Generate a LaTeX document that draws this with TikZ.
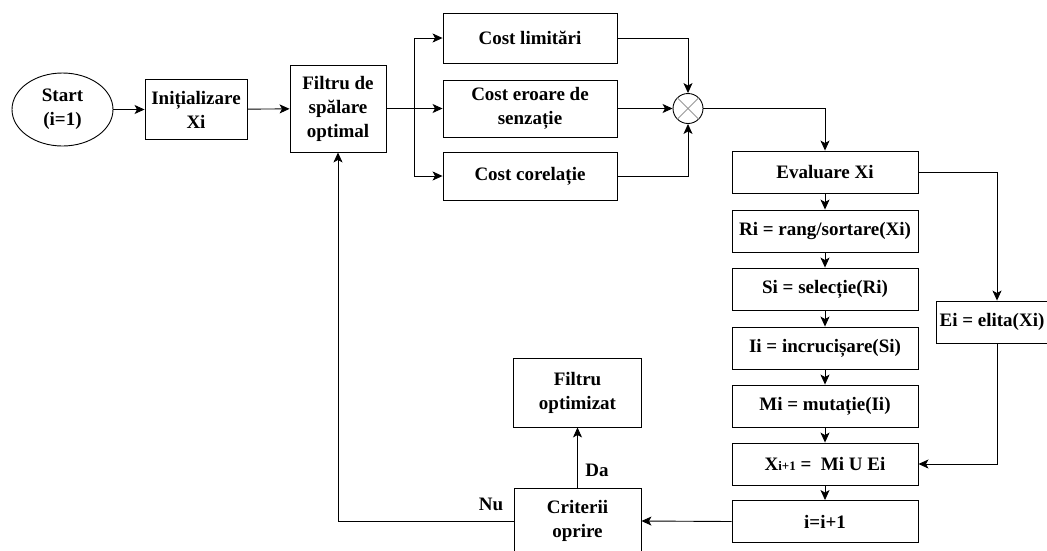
\documentclass[tikz,border=0pt]{standalone}
\usepackage{fontspec}
\setmainfont{Liberation Serif}
\usetikzlibrary{shapes.geometric, arrows.meta, positioning, calc}
\tikzset{
    block/.style={rectangle, draw, line width=0.9pt, align=center, inner sep=0pt, font=\fontsize{19}{24}\selectfont\bfseries},
    startnode/.style={ellipse, draw, line width=0.9pt, align=center, inner sep=0pt, font=\fontsize{19}{24}\selectfont\bfseries},
    line/.style={draw, line width=0.9pt, -{Stealth[length=10pt, width=9pt, inset=2.5pt]}},
    wire/.style={draw, line width=0.9pt},
    tag/.style={font=\fontsize{19}{24}\selectfont\bfseries}
}

\begin{document}
\begin{tikzpicture}[x=1pt, y=-1pt]
    \useasboundingbox (0,0) rectangle (1047,550);

    % Start and filter
    \node[startnode, minimum width=101pt, minimum height=73pt] (start) at (62.5,109.5) {Start\\(i=1)};
    \node[block, minimum width=102pt, minimum height=60pt] (init) at (196,109.5) {Inițializare\\Xi};
    \node[block, minimum width=96pt, minimum height=87pt] (filtru) at (338,108.5) {Filtru de\\spălare\\optimal};

    % Cost terms
    \node[block, minimum width=174pt, minimum height=50pt] (climit) at (530,38) {Cost limitări};
    \node[block, minimum width=174pt, minimum height=57pt] (ceroare) at (530,108.5) {Cost eroare de\\senzație};
    \node[block, minimum width=174pt, minimum height=48pt] (ccorel) at (530,176) {Cost corelație};
    \node[circle, draw, line width=0.9pt, minimum size=30pt, inner sep=0pt] (mult) at (688,108.5) {};
    \draw[gray!80, line width=0.9pt] (mult.45) -- (mult.225) (mult.135) -- (mult.315);

    % Genetic loop
    \node[block, minimum width=186pt, minimum height=42pt] (evalu) at (825,172) {Evaluare Xi};
    \node[block, minimum width=186pt, minimum height=42pt] (ri) at (825,231) {Ri = rang/sortare(Xi)};
    \node[block, minimum width=186pt, minimum height=42pt] (si) at (825,289) {Si = selecție(Ri)};
    \node[block, minimum width=186pt, minimum height=42pt] (ii) at (825,348) {Ii = incrucișare(Si)};
    \node[block, minimum width=186pt, minimum height=42pt] (mi) at (825,406) {Mi = mutație(Ii)};
    \node[block, minimum width=186pt, minimum height=42pt] (xnext) at (825,464) {X{\fontsize{13}{13}\selectfont i+1} =\ \ Mi U Ei};
    \node[block, minimum width=186pt, minimum height=42pt] (inc) at (825,521.5) {i=i+1};
    \node[block, minimum width=112pt, minimum height=42pt] (elita) at (992,322) {Ei = elita(Xi)};

    % Stop test
    \node[block, minimum width=127pt, minimum height=66pt] (crit) at (577.5,521) {Criterii\\oprire};
    \node[block, minimum width=128pt, minimum height=69pt] (fopt) at (577.5,392.5) {Filtru\\optimizat};
    \node[tag] (da) at (597,470) {Da};
    \node[tag] (nu) at (491,504) {Nu};

    % Connectors
    \draw[line] (start) -- (init);
    \draw[line] (init) -- (filtru);
    \draw[wire, line width=1.6pt] (filtru.east) -- ++(28,0) coordinate (fork);
    \draw[line] (fork) |- (climit.west);
    \draw[line] (fork) -- (ceroare.west);
    \draw[line] (fork) |- (ccorel.west);
    \draw[line] (climit.east) -| (mult.north);
    \draw[line] (ceroare.east) -- (mult.west);
    \draw[line] (ccorel.east) -| (mult.south);
    \draw[line] (mult.east) -| (evalu.north);
    \draw[line] (evalu) -- (ri);
    \draw[line] (ri) -- (si);
    \draw[line] (si) -- (ii);
    \draw[line] (ii) -- (mi);
    \draw[line] (mi) -- (xnext);
    \draw[line] (xnext) -- (inc);
    \draw[line] (evalu.east) -| ([xshift=5pt]elita.north);
    \draw[line] ([xshift=5pt]elita.south) |- (xnext.east);
    \draw[line] (inc.west) -- (crit.east);
    \draw[line] (crit.north) -- (fopt.south);
    \draw[line] (crit.west) -| (filtru.south);

\end{tikzpicture}
\end{document}
